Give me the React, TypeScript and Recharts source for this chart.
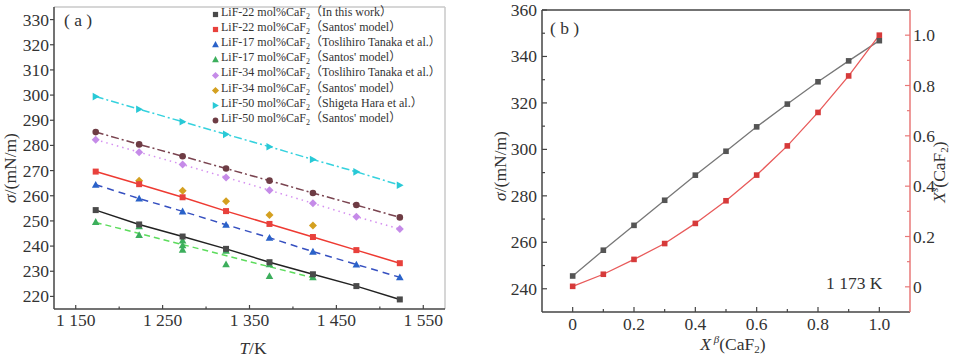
import React from 'react';
import { ComposedChart, LineChart, Line, Scatter, XAxis, YAxis, ReferenceLine, Legend } from 'recharts';

// panel (a): surface tension vs temperature
const TEMPS = [1173, 1223, 1273, 1323, 1373, 1423, 1473, 1523];
const lif22Work = [254.3, 248.6, 243.8, 238.9, 233.6, 228.8, 224.1, 218.8];
const lif22Santos = [269.6, 264.6, 259.4, 253.9, 248.8, 243.6, 238.4, 233.2];
const lif17Tanaka = [264.4, 258.9, 253.8, 248.5, 243.3, 237.8, 232.7, 227.6];
const lif34Tanaka = [282.3, 277.3, 272.4, 267.3, 262.2, 257.0, 251.7, 246.8];
const lif50Hara = [299.4, 294.4, 289.4, 284.4, 279.5, 274.4, 269.5, 264.2];
const lif50Santos = [285.3, 280.4, 275.7, 270.8, 266.0, 261.1, 256.3, 251.4];

const lif17SantosT = [1173, 1223, 1223, 1273, 1273, 1273, 1323, 1323, 1373, 1373, 1423];
const lif17SantosV = [249.6, 247.9, 244.4, 242.2, 240.3, 238.6, 238.2, 232.8, 232.8, 228.1, 227.6];
const lif17FitT = [1173, 1423];
const lif17FitV = [249.4, 227.4];

const lif34SantosT = [1223, 1273, 1323, 1373, 1423];
const lif34SantosV = [266.0, 262.0, 257.8, 252.4, 248.2];

const TICKS_T = [1150, 1200, 1250, 1300, 1350, 1400, 1450, 1500, 1550];
const MAJOR_T = [1150, 1250, 1350, 1450, 1550];
const TICKS_SIGMA_A = [220, 230, 240, 250, 260, 270, 280, 290, 300, 310, 320, 330];

const LEGEND_NAMES = [
  ['LiF-22 mol%CaF', 'In this work'],
  ['LiF-22 mol%CaF', "Santos' model"],
  ['LiF-17 mol%CaF', 'Toslihiro Tanaka et al.'],
  ['LiF-17 mol%CaF', "Santos' model"],
  ['LiF-34 mol%CaF', 'Toslihiro Tanaka et al.'],
  ['LiF-34 mol%CaF', "Santos' model"],
  ['LiF-50 mol%CaF', 'Shigeta Hara et al.'],
  ['LiF-50 mol%CaF', "Santos' model"],
];

// panel (b): composition at 1 173 K
const XB = [0, 0.1, 0.2, 0.3, 0.4, 0.5, 0.6, 0.7, 0.8, 0.9, 1.0];
const sigmaB = [245.5, 256.6, 267.3, 278.1, 288.9, 299.2, 309.7, 319.5, 329.1, 338.1, 346.8];
const xsB = [0.002, 0.05, 0.109, 0.172, 0.252, 0.342, 0.444, 0.56, 0.693, 0.838, 1.0];

const TICKS_XB = [0, 0.1, 0.2, 0.3, 0.4, 0.5, 0.6, 0.7, 0.8, 0.9, 1.0];
const MAJOR_XB = [0, 0.2, 0.4, 0.6, 0.8, 1.0];
const TICKS_SIGMA_B = [240, 250, 260, 270, 280, 290, 300, 310, 320, 330, 340, 350, 360];
const MAJOR_SIGMA_B = [240, 260, 280, 300, 320, 340, 360];
const TICKS_XS = [0, 0.1, 0.2, 0.3, 0.4, 0.5, 0.6, 0.7, 0.8, 0.9, 1.0];
const MAJOR_XS = [0, 0.2, 0.4, 0.6, 0.8, 1.0];

const SERIF = "'Liberation Serif', 'DejaVu Serif', Tinos, Times, 'Noto Sans CJK SC', serif";
const AXIS = '#444';
const TICK_FS = 17.5;

const STYLE = [
  { color: '#4a4a4a', kind: 'square' },
  { color: '#e8413c', kind: 'square' },
  { color: '#2a62c9', kind: 'tri' },
  { color: '#3cae5c', kind: 'tri' },
  { color: '#c58be8', kind: 'diamond' },
  { color: '#d4a020', kind: 'diamond' },
  { color: '#29c9d6', kind: 'triR' },
  { color: '#6e3c44', kind: 'circle' },
];

const pts = (xs: number[], ys: number[], key = 'T') => xs.map((x, i) => ({ [key]: x, v: ys[i] }));

function Marker({ cx, cy, kind, color, r = 3 }: any) {
  if (cx == null || cy == null) return null;
  if (kind === 'square') return <rect x={cx - r} y={cy - r} width={r * 2} height={r * 2} fill={color} />;
  if (kind === 'circle') return <circle cx={cx} cy={cy} r={r + 0.3} fill={color} />;
  if (kind === 'tri') {
    const s = r + 0.8;
    return <polygon points={`${cx},${cy - s} ${cx + s},${cy + s * 0.8} ${cx - s},${cy + s * 0.8}`} fill={color} />;
  }
  if (kind === 'triR') {
    const s = r + 0.8;
    return <polygon points={`${cx + s},${cy} ${cx - s * 0.8},${cy - s} ${cx - s * 0.8},${cy + s}`} fill={color} />;
  }
  const s = r + 1;
  return <polygon points={`${cx},${cy - s} ${cx + s},${cy} ${cx},${cy + s} ${cx - s},${cy}`} fill={color} />;
}

const dotOf = (kind: string, color: string, r = 3) => (p: any) =>
  <Marker key={p.index} cx={p.cx} cy={p.cy} kind={kind} color={color} r={r} />;

// tick drawn by hand so major / minor ticks can differ; len > 0 means outward
function makeTick(side: 'left' | 'right' | 'bottom', majors: number[], fmt: (v: number) => string,
  len: number, minorLen: number, gap: number, lineColor = AXIS) {
  return (p: any) => {
    const { x, y, payload, index } = p;
    const v = payload.value;
    const major = majors.some((m) => Math.abs(m - v) < 1e-6);
    const L = major ? len : minorLen;
    const out = Math.max(L, 0);
    if (side === 'bottom') {
      return (
        <g key={index}>
          <line x1={x} y1={y} x2={x} y2={y + L} stroke={lineColor} strokeWidth={1.2} />
          {major && <text x={x} y={y + out + gap + 12} textAnchor="middle" fontFamily={SERIF} fontSize={TICK_FS} fill="#333">{fmt(v)}</text>}
        </g>
      );
    }
    const dir = side === 'left' ? -1 : 1;
    return (
      <g key={index}>
        <line x1={x} y1={y} x2={x + dir * L} y2={y} stroke={lineColor} strokeWidth={1.2} />
        {major && <text x={x + dir * (out + gap)} y={y + 6} textAnchor={side === 'left' ? 'end' : 'start'} fontFamily={SERIF} fontSize={TICK_FS} fill="#333">{fmt(v)}</text>}
      </g>
    );
  };
}

const fmtT = (v: number) => `${Math.floor(v / 1000)} ${String(v % 1000).padStart(3, '0')}`;
const fmtFrac = (v: number) => (v === 0 ? '0' : v.toFixed(1));

function LegendBox() {
  return (
    <div style={{ fontFamily: SERIF, fontSize: 12, color: '#333', lineHeight: '15.2px' }}>
      {LEGEND_NAMES.map(([a, b], i) => (
        <div key={i} style={{ display: 'flex', alignItems: 'center', height: 15.2, whiteSpace: 'nowrap' }}>
          <svg width={9} height={9} style={{ marginRight: 1 }}>
            <Marker cx={4.5} cy={4.5} kind={STYLE[i].kind} color={STYLE[i].color} r={2.6} />
          </svg>
          <span>{a}<sub style={{ fontSize: 8, verticalAlign: -3 }}>2</sub>（{b}）</span>
        </div>
      ))}
    </div>
  );
}

function PanelA() {
  return (
    <ComposedChart width={455} height={357} margin={{ top: 7, right: 10, bottom: 18, left: 0 }}>
      <XAxis type="number" dataKey="T" domain={[1125, 1575]} ticks={TICKS_T} interval={0} height={30}
        tickSize={0} tickMargin={0} tickLine={false} axisLine={{ stroke: AXIS, strokeWidth: 1.5 }}
        tick={makeTick('bottom', MAJOR_T, fmtT, -4, -2.5, 5)} allowDataOverflow />
      <YAxis type="number" dataKey="v" domain={[215, 335]} ticks={TICKS_SIGMA_A} interval={0} width={54}
        tickSize={0} tickMargin={0} tickLine={false} axisLine={{ stroke: AXIS, strokeWidth: 1.5 }}
        tick={makeTick('left', TICKS_SIGMA_A, String, 4, 4, 1)} allowDataOverflow />
      <ReferenceLine y={335} stroke="#c8c8c8" strokeWidth={1.5} />
      <ReferenceLine x={1575} stroke="#c8c8c8" strokeWidth={1.5} />
      <Line data={pts(lif17FitT, lif17FitV)} dataKey="v" stroke="#5cdc5c" strokeWidth={1.5} strokeDasharray="6 4" dot={false} isAnimationActive={false} />
      <Line data={pts(TEMPS, lif22Work)} dataKey="v" stroke="#222" strokeWidth={1.5} dot={dotOf('square', '#4a4a4a')} isAnimationActive={false} />
      <Line data={pts(TEMPS, lif22Santos)} dataKey="v" stroke="#ee3a32" strokeWidth={1.5} dot={dotOf('square', '#e8413c')} isAnimationActive={false} />
      <Line data={pts(TEMPS, lif17Tanaka)} dataKey="v" stroke="#3650c0" strokeWidth={1.5} strokeDasharray="7 5" dot={dotOf('tri', '#2a62c9')} isAnimationActive={false} />
      <Line data={pts(TEMPS, lif34Tanaka)} dataKey="v" stroke="#d58ff0" strokeWidth={1.5} strokeDasharray="1.5 4" dot={dotOf('diamond', '#c58be8')} isAnimationActive={false} />
      <Line data={pts(TEMPS, lif50Hara)} dataKey="v" stroke="#35d2de" strokeWidth={1.5} strokeDasharray="8 3 2 3" dot={dotOf('triR', '#29c9d6')} isAnimationActive={false} />
      <Line data={pts(TEMPS, lif50Santos)} dataKey="v" stroke="#7a4450" strokeWidth={1.5} strokeDasharray="8 3 2 3" dot={dotOf('circle', '#6e3c44')} isAnimationActive={false} />
      <Scatter data={pts(lif17SantosT, lif17SantosV)} dataKey="v" isAnimationActive={false}
        shape={(p: any) => <Marker cx={p.cx} cy={p.cy} kind="tri" color="#3cae5c" />} />
      <Scatter data={pts(lif34SantosT, lif34SantosV)} dataKey="v" isAnimationActive={false}
        shape={(p: any) => <Marker cx={p.cx} cy={p.cy} kind="diamond" color="#d4a020" />} />
      <Legend layout="vertical" align="center" verticalAlign="middle" content={() => <LegendBox />}
        wrapperStyle={{ position: 'absolute', left: 211, top: 6.7, width: 240 }} />
    </ComposedChart>
  );
}

function PanelB() {
  const data = XB.map((x, i) => ({ x, s: sigmaB[i], xs: xsB[i] }));
  return (
    <LineChart width={475} height={357} data={data} margin={{ top: 10, right: 0, bottom: 15, left: 0 }}>
      <XAxis type="number" dataKey="x" domain={[-0.1, 1.1]} ticks={TICKS_XB} interval={0} height={30}
        tickSize={0} tickMargin={0} tickLine={false} axisLine={{ stroke: AXIS, strokeWidth: 1.5 }}
        tick={makeTick('bottom', MAJOR_XB, fmtFrac, -5, -3, 6)} allowDataOverflow />
      <YAxis yAxisId="l" type="number" domain={[230, 360]} ticks={TICKS_SIGMA_B} interval={0} width={62}
        tickSize={0} tickMargin={0} tickLine={false} axisLine={{ stroke: AXIS, strokeWidth: 1.5 }}
        tick={makeTick('left', MAJOR_SIGMA_B, String, -5, -3, 5)} allowDataOverflow />
      <YAxis yAxisId="r" orientation="right" type="number" domain={[-0.1, 1.1]} ticks={TICKS_XS} interval={0} width={45}
        tickSize={0} tickMargin={0} tickLine={false} axisLine={{ stroke: '#e87878', strokeWidth: 1.5 }}
        tick={makeTick('right', MAJOR_XS, fmtFrac, -5, -3, 3, '#e87878')} allowDataOverflow />
      <ReferenceLine yAxisId="l" y={360} stroke={AXIS} strokeWidth={1.5} />
      <Line yAxisId="l" dataKey="s" stroke="#777" strokeWidth={1.3} dot={dotOf('square', '#555', 2.8)} isAnimationActive={false} />
      <Line yAxisId="r" dataKey="xs" stroke="#e85a5a" strokeWidth={1.3} dot={dotOf('square', '#d63a3a', 2.8)} isAnimationActive={false} />
    </LineChart>
  );
}

function Titles() {
  const t = { fontFamily: SERIF, fontSize: TICK_FS, fill: '#333' } as const;
  return (
    <svg width={955} height={357} style={{ position: 'absolute', left: 0, top: 0, pointerEvents: 'none' }}>
      <text x={64} y={26} {...t}>( a )</text>
      <text x={550} y={34} {...t}>( b )</text>
      <text x={826} y={289} {...t}>1 173 K</text>
      <text transform="translate(16,168) rotate(-90)" textAnchor="middle" {...t}>
        <tspan fontStyle="italic">σ</tspan>/(mN/m)
      </text>
      <text x={253} y={354} textAnchor="middle" {...t}>
        <tspan fontStyle="italic">T</tspan>/K
      </text>
      <text transform="translate(506,166) rotate(-90)" textAnchor="middle" {...t}>
        <tspan fontStyle="italic">σ</tspan>/(mN/m)
      </text>
      <text x={733} y={350} textAnchor="middle" {...t}>
        <tspan fontStyle="italic">X</tspan><tspan fontSize={11} dy={-7} fontStyle="italic"> β</tspan><tspan dy={7}>(CaF</tspan><tspan fontSize={11} dy={3}>2</tspan><tspan dy={-3}>)</tspan>
      </text>
      <text transform="translate(945,172) rotate(-90)" textAnchor="middle" {...t}>
        <tspan fontStyle="italic">X</tspan><tspan fontSize={11} dy={-7} fontStyle="italic">s</tspan><tspan dy={7}>(CaF</tspan><tspan fontSize={11} dy={3}>2</tspan><tspan dy={-3}>)</tspan>
      </text>
    </svg>
  );
}

export default function App() {
  return (
    <div style={{ position: 'absolute', left: 0, top: 0, width: 955, height: 357, background: '#fff', fontFamily: SERIF }}>
      <div style={{ position: 'absolute', left: 0, top: 0 }}><PanelA /></div>
      <div style={{ position: 'absolute', left: 480, top: 0 }}><PanelB /></div>
      <Titles />
    </div>
  );
}
